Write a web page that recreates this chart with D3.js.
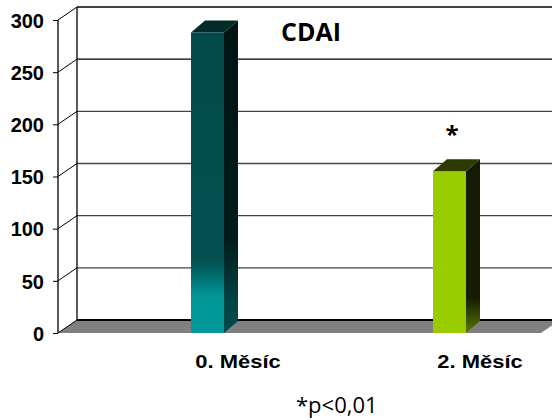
<!DOCTYPE html>
<html>
<head>
<meta charset="utf-8">
<script src="https://cdn.jsdelivr.net/npm/d3@7"></script>
<style>
  body { margin: 0; background: #fff; }
</style>
</head>
<body>
<div class="chart"></div>
<script>
// data
var categories = ['0. Měsíc', '2. Měsíc'];
var cdaiValues = [288, 155];
var yTicks = [0, 50, 100, 150, 200, 250, 300];
var chartTitle = 'CDAI';
var note = '*p<0,01';

var width = 552;
var height = 420;

// 3d offsets
var wall = { dx: 19, dy: -13 };
var depth = { dx: 14, dy: -12 };

var svg = d3.select('.chart')
  .append('svg')
    .attr('width', width)
    .attr('height', height);

var defs = svg.append('defs');

// gradients for the bars
var g1 = defs.append('linearGradient').attr('id', 'front0')
  .attr('x1', 0).attr('y1', 0).attr('x2', 0).attr('y2', 1);
g1.append('stop').attr('offset', '0%').attr('stop-color', '#034a4a');
g1.append('stop').attr('offset', '76%').attr('stop-color', '#035050');
g1.append('stop').attr('offset', '88%').attr('stop-color', '#009797');
g1.append('stop').attr('offset', '100%').attr('stop-color', '#009999');

var s1 = defs.append('linearGradient').attr('id', 'side0')
  .attr('x1', 0).attr('y1', 0).attr('x2', 0).attr('y2', 1);
s1.append('stop').attr('offset', '0%').attr('stop-color', '#001414');
s1.append('stop').attr('offset', '70%').attr('stop-color', '#011c1c');
s1.append('stop').attr('offset', '90%').attr('stop-color', '#034444');
s1.append('stop').attr('offset', '100%').attr('stop-color', '#034a4a');

var s2 = defs.append('linearGradient').attr('id', 'side1')
  .attr('x1', 0).attr('y1', 0).attr('x2', 0).attr('y2', 1);
s2.append('stop').attr('offset', '0%').attr('stop-color', '#141b00');
s2.append('stop').attr('offset', '80%').attr('stop-color', '#151d00');
s2.append('stop').attr('offset', '100%').attr('stop-color', '#5a7800');

var barColors = [
  { front: 'url(#front0)', side: 'url(#side0)', top: '#022b29' },
  { front: '#99cc00', side: 'url(#side1)', top: '#2e3a00' }
];

// scales
var y = d3.scaleLinear()
  .domain([0, 300])
  .range([333, 20]);

var x = d3.scalePoint()
  .domain(categories)
  .range([238, 480]);

var left = 58;
var right = 541;

// floor
svg.append('polygon')
  .attr('points', [
    [left, y(0)], [right, y(0)],
    [right + wall.dx, y(0) + wall.dy], [left + wall.dx, y(0) + wall.dy]
  ].join(' '))
  .style('fill', '#808080');

svg.append('line')
  .attr('x1', left + wall.dx).attr('x2', width)
  .attr('y1', y(0) + wall.dy).attr('y2', y(0) + wall.dy)
  .style('stroke', '#000')
  .style('stroke-width', 2);

// back wall grid
svg.selectAll('.grid')
  .data(yTicks.filter(function (d) { return d > 0; }))
  .enter().append('line')
    .attr('class', 'grid')
    .attr('x1', left + wall.dx).attr('x2', width)
    .attr('y1', function (d) { return y(d) + wall.dy; })
    .attr('y2', function (d) { return y(d) + wall.dy; })
    .style('stroke', function (d) { return d >= 250 ? '#000' : '#444'; })
    .style('stroke-width', 1.3);

// side wall diagonals
svg.selectAll('.diag')
  .data(yTicks)
  .enter().append('line')
    .attr('class', 'diag')
    .attr('x1', left).attr('x2', left + wall.dx)
    .attr('y1', function (d) { return y(d); })
    .attr('y2', function (d) { return y(d) + wall.dy; })
    .style('stroke', '#000')
    .style('stroke-width', 1);

// verticals
svg.append('line')
  .attr('x1', left + wall.dx).attr('x2', left + wall.dx)
  .attr('y1', y(300) + wall.dy).attr('y2', y(0) + wall.dy)
  .style('stroke', '#000').style('stroke-width', 1.3);

// y axis
var yAxis = d3.axisLeft(y)
  .tickValues(yTicks)
  .tickSize(5)
  .tickPadding(9);

var axisG = svg.append('g')
  .attr('transform', 'translate(' + left + ',0)')
  .call(yAxis);
axisG.select('.domain').remove();
axisG.append('line')
  .attr('y1', y(300)).attr('y2', y(0))
  .style('stroke', '#000').style('stroke-width', 1.3);
axisG.selectAll('.tick line').style('stroke', '#000');
axisG.selectAll('.tick text')
  .style('font-family', '"Liberation Sans", Arial, sans-serif')
  .style('font-weight', 'bold')
  .style('font-size', '20px')
  .style('fill', '#000')
  .attr('dy', '0.36em');

// bars
var barW = 33;
var bars = svg.selectAll('.bar')
  .data(categories)
  .enter().append('g')
    .attr('class', 'bar');

bars.append('rect')
  .attr('x', function (d) { return x(d) - 47; })
  .attr('y', function (d, i) { return y(cdaiValues[i]); })
  .attr('width', barW)
  .attr('height', function (d, i) { return y(0) - y(cdaiValues[i]); })
  .style('fill', function (d, i) { return barColors[i].front; });

bars.append('polygon')
  .attr('points', function (d, i) {
    var x0 = x(d) - 47 + barW, yt = y(cdaiValues[i]), yb = y(0);
    return [[x0, yt], [x0 + depth.dx, yt + depth.dy],
            [x0 + depth.dx, yb + depth.dy], [x0, yb]].join(' ');
  })
  .style('fill', function (d, i) { return barColors[i].side; });

bars.append('polygon')
  .attr('points', function (d, i) {
    var x0 = x(d) - 47, yt = y(cdaiValues[i]);
    return [[x0, yt], [x0 + barW, yt],
            [x0 + barW + depth.dx, yt + depth.dy], [x0 + depth.dx, yt + depth.dy]].join(' ');
  })
  .style('fill', function (d, i) { return barColors[i].top; });

// category labels
svg.selectAll('.cat')
  .data(categories)
  .enter().append('text')
    .attr('class', 'cat')
    .attr('transform', function (d) { return 'translate(' + x(d) + ',368) scale(1.22,1)'; })
    .attr('text-anchor', 'middle')
    .style('font-family', '"Liberation Sans", Arial, sans-serif')
    .style('font-weight', 'bold')
    .style('font-size', '18px')
    .text(function (d) { return d; });

// title
svg.append('text')
  .attr('x', 281).attr('y', 41)
  .style('font-family', '"Open Sans", sans-serif')
  .style('font-weight', 'bold')
  .style('font-size', '25px')
  .text(chartTitle);

// significance marker
svg.append('text')
  .attr('x', x(categories[1]) - 28).attr('y', 143)
  .attr('text-anchor', 'middle')
  .style('font-family', '"Open Sans", sans-serif')
  .style('font-weight', 'bold')
  .style('font-size', '24px')
  .text('*');

svg.append('text')
  .attr('x', 296).attr('y', 413)
  .style('font-family', '"Open Sans", sans-serif')
  .style('font-size', '22px')
  .text(note);
</script>
</body>
</html>
